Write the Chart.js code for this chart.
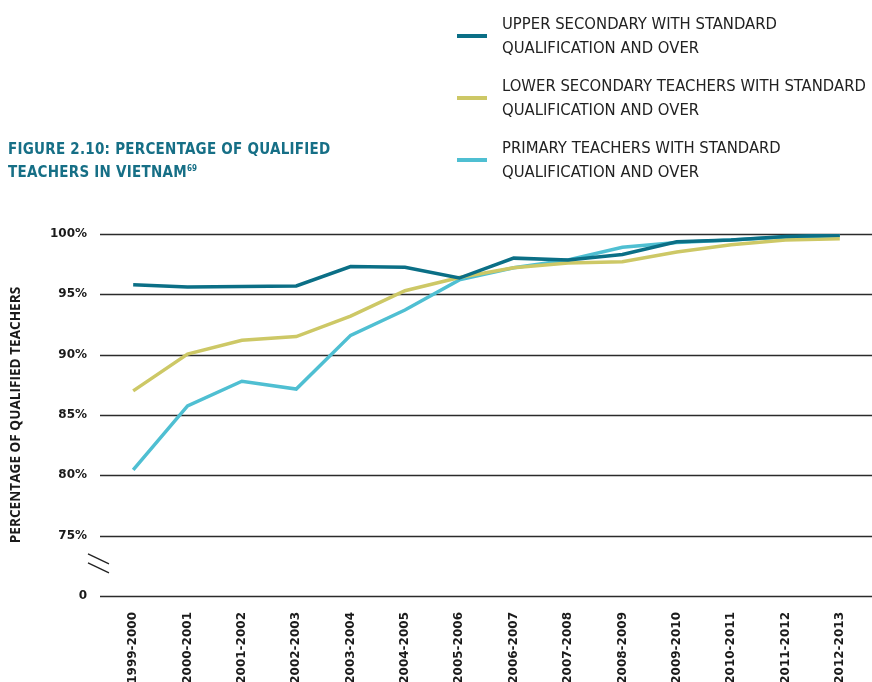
<!DOCTYPE html>
<html>
<head>
<meta charset="utf-8">
<script src="https://cdn.jsdelivr.net/npm/chart.js@4"></script>
<style>
  html, body { margin: 0; padding: 0; background: #fff; }
  #wrap { position: relative; width: 872px; height: 682px; overflow: hidden; }
  #chart { position: absolute; left: 0; top: 0; }
  #title {
    position: absolute; left: 8px; top: 138px;
    font-family: "DejaVu Sans Condensed", "DejaVu Sans", sans-serif;
    font-weight: bold; font-size: 15px; letter-spacing: 0.25px; line-height: 23px; color: #166f86;
  }
  #title sup { font-size: 8px; vertical-align: 6px; line-height: 0; letter-spacing: 0; }
  #legend { position: absolute; left: 457px; top: 12px; }
  .item { position: relative; height: 62px; }
  .swatch { position: absolute; left: 0; top: 22px; width: 30px; height: 4px; }
  .label {
    position: absolute; left: 45px; top: 0;
    font-family: "Liberation Sans Narrow", "DejaVu Sans Condensed", sans-serif;
    font-size: 16.5px; line-height: 24px; color: #222; white-space: nowrap;
  }
</style>
</head>
<body>
<div id="wrap">
  <canvas id="chart" width="872" height="682"></canvas>
  <div id="title">FIGURE 2.10: PERCENTAGE OF QUALIFIED<br>TEACHERS IN VIETNAM<sup>69</sup></div>
  <div id="legend"></div>
</div>
<script>
// school years
const YEARS = ['1999-2000', '2000-2001', '2001-2002', '2002-2003', '2003-2004', '2004-2005', '2005-2006',
    '2006-2007', '2007-2008', '2008-2009', '2009-2010', '2010-2011', '2011-2012', '2012-2013'];

// percentage of teachers with standard qualification and over
const UPPER_SECONDARY = [95.8, 95.6, 95.65, 95.7, 97.3, 97.25, 96.35, 98.0, 97.85, 98.3, 99.35, 99.5, 99.8, 99.9];
const LOWER_SECONDARY = [87.0, 90.05, 91.2, 91.5, 93.2, 95.3, 96.4, 97.2, 97.6, 97.7, 98.5, 99.1, 99.5, 99.6];
const PRIMARY = [80.45, 85.75, 87.8, 87.15, 91.6, 93.7, 96.2, 97.2, 97.85, 98.9, 99.3, 99.5, 99.75, 99.85];

// y axis: the lowest tick stands for 0 (axis break)
const Y_TICKS = [70, 75, 80, 85, 90, 95, 100];

const LABELS = [
    ['UPPER SECONDARY WITH STANDARD', 'QUALIFICATION AND OVER'],
    ['LOWER SECONDARY TEACHERS WITH STANDARD', 'QUALIFICATION AND OVER'],
    ['PRIMARY TEACHERS WITH STANDARD', 'QUALIFICATION AND OVER']
];
const COLORS = ['#0b6f86', '#cdc866', '#4fbfd2'];

function buildLegend() {
    const box = document.getElementById('legend');
    LABELS.forEach((lines, i) => {
        const item = document.createElement('div');
        item.className = 'item';
        item.innerHTML = '<div class="swatch" style="background:' + COLORS[i] + '"></div>' +
            '<div class="label">' + lines.join('<br>') + '</div>';
        box.appendChild(item);
    });
}

// horizontal rules that run past the plot edges, plus the // break mark
const rulesPlugin = {
    id: 'rules',
    beforeDatasetsDraw(chart) {
        const ctx = chart.ctx;
        const y = chart.scales.y;
        ctx.save();
        ctx.strokeStyle = '#2b2b2b';
        ctx.lineWidth = 1.5;
        Y_TICKS.forEach(v => {
            const py = Math.round(y.getPixelForValue(v)) + 0.5;
            ctx.beginPath();
            ctx.moveTo(100, py);
            ctx.lineTo(chart.width, py);
            ctx.stroke();
        });
        // break mark between 75% and 0
        const mid = y.getPixelForValue(72.5);
        ctx.lineWidth = 1.3;
        ctx.strokeStyle = '#222';
        [-12, -3].forEach(dy => {
            ctx.beginPath();
            ctx.moveTo(88, mid + dy);
            ctx.lineTo(109, mid + dy + 10);
            ctx.stroke();
        });
        ctx.restore();
    }
};

function createChart() {
    const series = [UPPER_SECONDARY, LOWER_SECONDARY, PRIMARY];
    new Chart(document.getElementById('chart'), {
        type: 'line',
        data: {
            labels: YEARS,
            datasets: series.map((data, i) => ({
                label: LABELS[i].join(' '),
                data: data,
                borderColor: COLORS[i],
                backgroundColor: COLORS[i],
                borderWidth: 3.5,
                pointRadius: 0,
                tension: 0,
                order: i
            }))
        },
        options: {
            responsive: false,
            animation: false,
            layout: { padding: { top: 234, right: 5, bottom: 0, left: 0 } },
            plugins: { legend: { display: false }, tooltip: { enabled: false } },
            scales: {
                x: {
                    offset: true,
                    grid: { display: false },
                    border: { display: false },
                    afterFit(scale) { scale.height = 86; },
                    ticks: {
                        minRotation: 90, maxRotation: 90, autoSkip: false, padding: 8,
                        color: '#1a1a1a',
                        font: { family: 'DejaVu Sans', weight: 'bold', size: 12 }
                    }
                },
                y: {
                    min: 70, max: 100,
                    grid: { display: false },
                    border: { display: false },
                    afterFit(scale) { scale.width = 106; },
                    afterBuildTicks(scale) { scale.ticks = Y_TICKS.map(v => ({ value: v })); },
                    ticks: {
                        padding: 11,
                        color: '#1a1a1a',
                        font: { family: 'DejaVu Sans', weight: 'bold', size: 12 },
                        callback: v => v === 70 ? '0' : v + '%'
                    },
                    title: {
                        display: true,
                        text: 'PERCENTAGE OF QUALIFIED TEACHERS',
                        color: '#1a1a1a',
                        padding: { top: 8, bottom: 0 },
                        font: { family: 'Open Sans', weight: 'bold', size: 13.6 }
                    }
                }
            }
        },
        plugins: [rulesPlugin]
    });
}

buildLegend();
createChart();
</script>
</body>
</html>
